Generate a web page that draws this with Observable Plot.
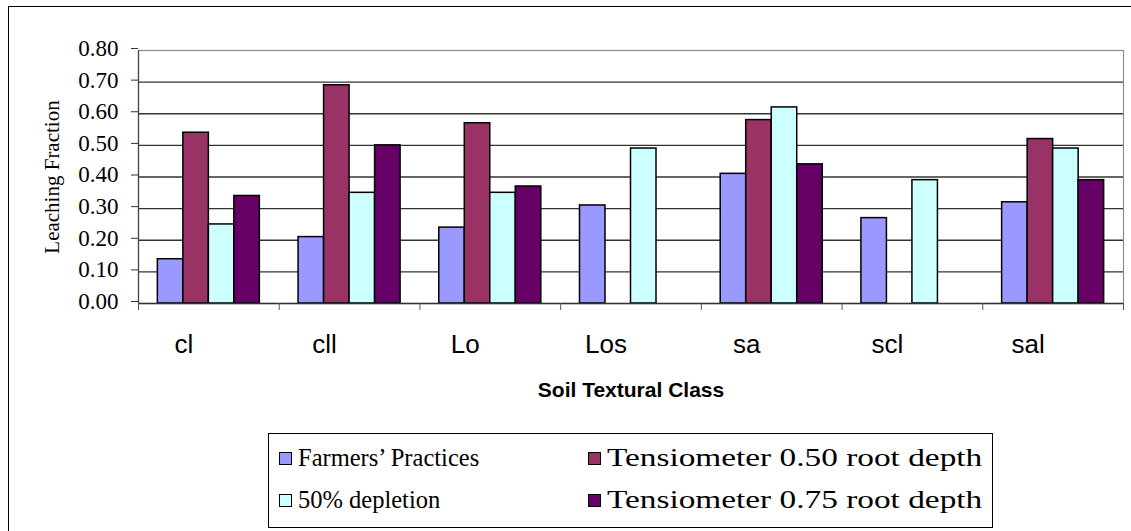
<!DOCTYPE html>
<html>
<head>
<meta charset="utf-8">
<script src="https://cdn.jsdelivr.net/npm/d3@7"></script>
<script src="https://cdn.jsdelivr.net/npm/@observablehq/plot@0.6"></script>
<style>
  html, body { margin: 0; padding: 0; background: #fff; overflow: hidden; }
  #wrap { position: relative; width: 1131px; height: 531px; overflow: hidden; background: #fff; }
  #chart { position: absolute; left: 0; top: 0; }
  #border { position: absolute; left: 8px; top: 6px; width: 1300px; height: 700px;
            border-left: 1.5px solid #000; border-top: 1.5px solid #000; }
  #legend { position: absolute; left: 268px; top: 433px; width: 723px; height: 93px;
            border: 1px solid #000; background: #fff;
            font-family: "Liberation Serif", "Times New Roman", serif; font-size: 24.5px; color: #000; }
  .item { position: absolute; display: flex; align-items: center; height: 30px; white-space: pre; }
  .sw { width: 11px; height: 11px; border: 1px solid #000; margin-right: 6px; flex: none; }
  .lab { display: inline-block; transform-origin: 0 50%; }
  .wide { transform: scaleX(1.36); }
</style>
</head>
<body>
<div id="wrap">
  <div id="chart"></div>
  <div id="border"></div>
  <div id="legend"></div>
</div>
<script>
// ---- data ----
const categories = ["cl", "cll", "Lo", "Los", "sa", "scl", "sal"];
const farmersPractices = [0.14, 0.21, 0.24, 0.31, 0.41, 0.27, 0.32];
const tensiometer050   = [0.54, 0.69, 0.57, null, 0.58, null, 0.52];
const depletion50      = [0.25, 0.35, 0.35, 0.49, 0.62, 0.39, 0.49];
const tensiometer075   = [0.34, 0.50, 0.37, null, 0.44, null, 0.39];
const seriesNames = ["Farmers\u2019 Practices", "Tensiometer 0.50 root depth", "50% depletion", "Tensiometer 0.75 root depth"];
const seriesColors = ["#9999FF", "#993366", "#CCFFFF", "#660066"];
const yTicks = [0, 0.1, 0.2, 0.3, 0.4, 0.5, 0.6, 0.7, 0.8];
const yTitle = "Leaching Fraction";
const xTitle = "Soil Textural Class";

const seriesValues = [farmersPractices, tensiometer050, depletion50, tensiometer075];

// ---- layout ----
const W = 1131, H = 531;
const mL = 138, mR = 8, mT = 50, mB = 228;
const pInner = 0.275, pOuter = pInner / 2;
const step = (W - mL - mR) / categories.length;
const bandW = step * (1 - pInner);
const barW = bandW / seriesNames.length;

const rows = [];
categories.forEach((c, i) => {
  seriesValues.forEach((arr, s) => {
    if (arr[i] != null) rows.push({cat: c, s, value: arr[i]});
  });
});

const serif = "Liberation Serif, Times New Roman, serif";
const sans = "Liberation Sans, Arial, sans-serif";

const chart = Plot.plot({
  width: W,
  height: H,
  marginLeft: mL,
  marginRight: mR,
  marginTop: mT,
  marginBottom: mB,
  style: {background: "transparent", overflow: "visible", color: "#000"},
  x: {type: "band", domain: categories, paddingInner: pInner, paddingOuter: pOuter, round: false, axis: null},
  y: {domain: [0, 0.8], axis: null},
  marks: [
    Plot.frame({stroke: "#8c8c8c", strokeWidth: 1.2}),
    Plot.ruleY(yTicks.filter(t => t > 0 && t < 0.8), {stroke: "#333", strokeWidth: 1.3}),
    ...seriesNames.map((name, s) =>
      Plot.barY(rows.filter(r => r.s === s), {
        x: "cat", y: "value",
        fill: seriesColors[s], stroke: "#000", strokeWidth: 1.5,
        insetLeft: s * barW, insetRight: (seriesNames.length - 1 - s) * barW
      })
    ),
    Plot.ruleY([0], {stroke: "#333", strokeWidth: 1.3}),
    Plot.ruleX([categories[0]], {dx: -step / 2, stroke: "#444", strokeWidth: 1.2}),
    Plot.axisY({ticks: yTicks, tickFormat: d3.format(".2f"), tickSize: 7, tickPadding: 13,
                fontSize: 23, fontFamily: serif, label: null, stroke: "#333", dy: -2}),
    Plot.axisX({tickSize: 7, tickFormat: () => "", dx: step / 2, label: null, stroke: "#555"}),
    Plot.axisX({ticks: [categories[0]], tickSize: 7, tickFormat: () => "", dx: -step / 2, label: null, stroke: "#555"}),
    Plot.text(categories, {x: d => d, text: d => d, frameAnchor: "bottom", dy: 41, dx: -25,
                           fontSize: 26, fontFamily: sans, fill: "#000",
                           textAnchor: "middle", lineAnchor: "middle"}),
    Plot.text([xTitle], {text: d => d, frameAnchor: "bottom", dy: 87, fontSize: 21, fontWeight: "bold",
                         fontFamily: sans, fill: "#000", textAnchor: "middle", lineAnchor: "middle"}),
    Plot.text([yTitle], {text: d => d, frameAnchor: "left", dx: -86, rotate: -90, fontSize: 21,
                         fontFamily: serif, fill: "#000", textAnchor: "middle", lineAnchor: "middle"})
  ]
});
document.getElementById("chart").appendChild(chart);

// ---- legend ----
const legend = document.getElementById("legend");
const legendPos = [[10, 9], [319, 9], [10, 51], [319, 51]];
seriesNames.forEach((name, s) => {
  const item = document.createElement("div");
  item.className = "item";
  item.style.left = legendPos[s][0] + "px";
  item.style.top = legendPos[s][1] + "px";
  const sw = document.createElement("span");
  sw.className = "sw";
  sw.style.background = seriesColors[s];
  const label = document.createElement("span");
  label.className = "lab" + (s % 2 === 1 ? " wide" : "");
  label.textContent = name;
  item.appendChild(sw);
  item.appendChild(label);
  legend.appendChild(item);
});
</script>
</body>
</html>
